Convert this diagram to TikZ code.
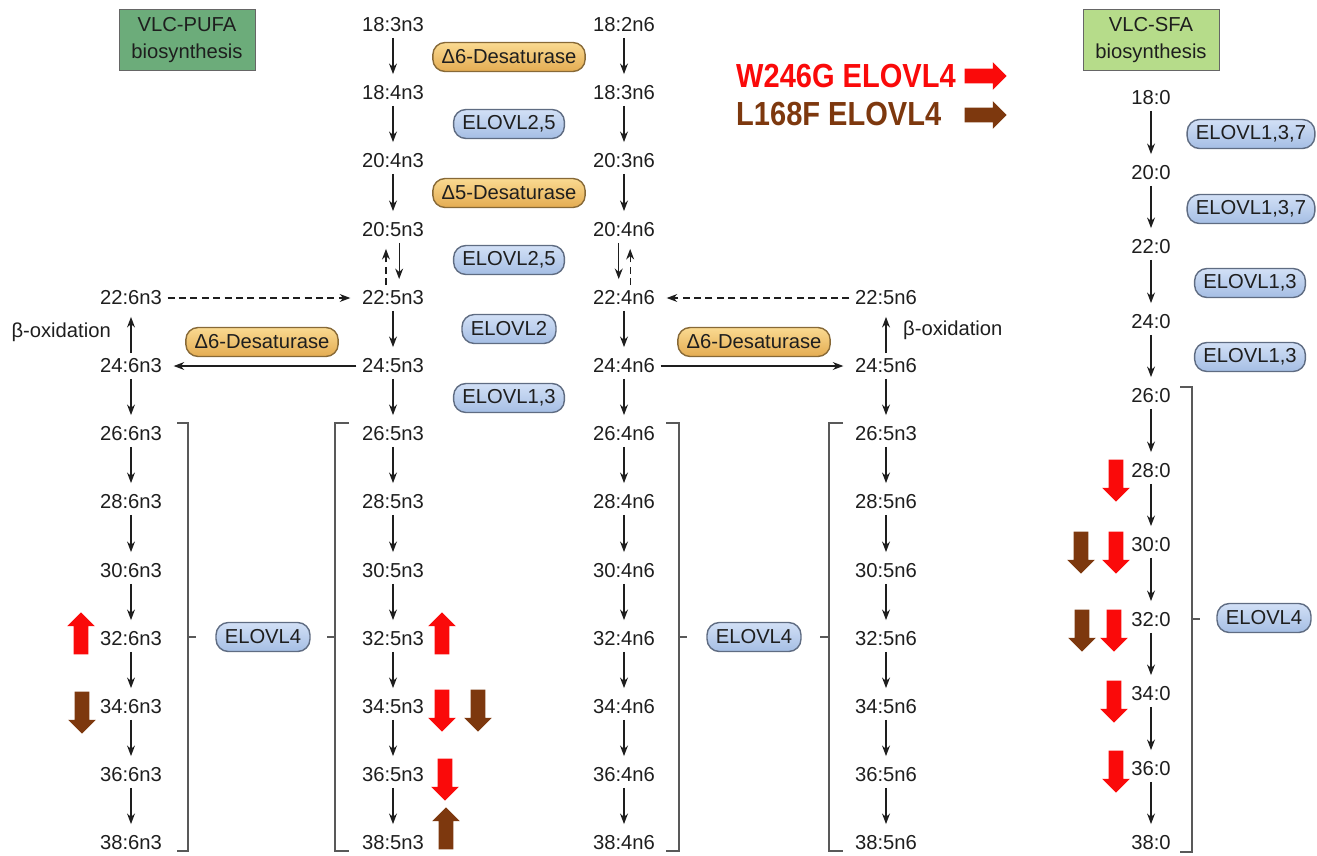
\documentclass[tikz,border=0pt]{standalone}
\usepackage{fontspec}
\setmainfont{Liberation Sans}
\newfontfamily\legfont{Liberation Sans}[FakeStretch=0.87]
\usetikzlibrary{arrows.meta, shapes.arrows}

\definecolor{ink}{RGB}{30,30,30}
\definecolor{mutred}{RGB}{250,10,10}
\definecolor{mutbrown}{RGB}{125,56,14}
\definecolor{elovltop}{RGB}{210,224,246}
\definecolor{elovlbot}{RGB}{165,190,228}
\definecolor{elovlline}{RGB}{95,108,130}
\definecolor{desattop}{RGB}{250,218,145}
\definecolor{desatbot}{RGB}{228,172,82}
\definecolor{desatline}{RGB}{135,105,55}
\definecolor{pufagreen}{RGB}{108,172,122}
\definecolor{sfagreen}{RGB}{182,220,138}

\begin{document}
\begin{tikzpicture}[
    x=0.02cm, y=-0.02cm,
    every node/.style={font=\fontsize{11.5}{13}\selectfont, text=ink},
    fa/.style={inner sep=1pt},
    enz/.style={rounded corners=7pt, minimum height=0.58cm, inner xsep=5pt, inner ysep=0pt, line width=0.8pt},
    elovl/.style={enz, draw=elovlline, top color=elovltop, bottom color=elovlbot},
    desat/.style={enz, draw=desatline, top color=desattop, bottom color=desatbot},
    header/.style={draw=black!60, minimum width=2.72cm, minimum height=1.22cm, inner sep=0pt, align=center, font=\fontsize{11.5}{15}\selectfont},
    arr/.style={-{Stealth[length=6pt, width=4.5pt]}, line width=0.7pt, ink, shorten <=2pt, shorten >=5.5pt},
    darr/.style={arr, dash pattern=on 4pt off 2.5pt},
    brk/.style={line width=0.8pt, black!65},
    mut/.style={single arrow, draw=none, inner sep=0.14cm, minimum height=0.84cm, single arrow head extend=0.13cm},
    mutup/.style={mut, rotate=90},
    mutdown/.style={mut, rotate=-90},
    legend/.style={anchor=west, font=\legfont\bfseries\fontsize{19}{21}\selectfont},
]
\useasboundingbox (0,0) rectangle (1317,855);

% headers
\node[header, fill=pufagreen] (hpufa) at (187,40) {VLC-PUFA\\biosynthesis};
\node[header, fill=sfagreen] (hsfa) at (1151,40) {VLC-SFA\\biosynthesis};

% legend
\node[legend, text=mutred] (lw) at (730,76) {W246G ELOVL4};
\node[legend, text=mutbrown] (ll) at (730,114) {L168F ELOVL4};
\node[mut, fill=mutred] (lwa) at (982,76) {};
\node[mut, fill=mutbrown] (lla) at (982,115) {};

% n3 side branch
\node[fa] (a4) at (131,298) {22:6n3};
\node[fa] (a5) at (131,366) {24:6n3};
\node[fa] (a6) at (131,434) {26:6n3};
\node[fa] (a7) at (131,502) {28:6n3};
\node[fa] (a8) at (131,571) {30:6n3};
\node[fa] (a9) at (131,639) {32:6n3};
\node[fa] (a10) at (131,707) {34:6n3};
\node[fa] (a11) at (131,775) {36:6n3};
\node[fa] (a12) at (131,843) {38:6n3};

% n3 main
\node[fa] (b0) at (393,25) {18:3n3};
\node[fa] (b1) at (393,93) {18:4n3};
\node[fa] (b2) at (393,161) {20:4n3};
\node[fa] (b3) at (393,230) {20:5n3};
\node[fa] (b4) at (393,298) {22:5n3};
\node[fa] (b5) at (393,366) {24:5n3};
\node[fa] (b6) at (393,434) {26:5n3};
\node[fa] (b7) at (393,502) {28:5n3};
\node[fa] (b8) at (393,571) {30:5n3};
\node[fa] (b9) at (393,639) {32:5n3};
\node[fa] (b10) at (393,707) {34:5n3};
\node[fa] (b11) at (393,775) {36:5n3};
\node[fa] (b12) at (393,843) {38:5n3};

% n6 main
\node[fa] (c0) at (624,25) {18:2n6};
\node[fa] (c1) at (624,93) {18:3n6};
\node[fa] (c2) at (624,161) {20:3n6};
\node[fa] (c3) at (624,230) {20:4n6};
\node[fa] (c4) at (624,298) {22:4n6};
\node[fa] (c5) at (624,366) {24:4n6};
\node[fa] (c6) at (624,434) {26:4n6};
\node[fa] (c7) at (624,502) {28:4n6};
\node[fa] (c8) at (624,571) {30:4n6};
\node[fa] (c9) at (624,639) {32:4n6};
\node[fa] (c10) at (624,707) {34:4n6};
\node[fa] (c11) at (624,775) {36:4n6};
\node[fa] (c12) at (624,843) {38:4n6};

% n6 side branch
\node[fa] (d4) at (886,298) {22:5n6};
\node[fa] (d5) at (886,366) {24:5n6};
\node[fa] (d6) at (886,434) {26:5n3};
\node[fa] (d7) at (886,502) {28:5n6};
\node[fa] (d8) at (886,571) {30:5n6};
\node[fa] (d9) at (886,639) {32:5n6};
\node[fa] (d10) at (886,707) {34:5n6};
\node[fa] (d11) at (886,775) {36:5n6};
\node[fa] (d12) at (886,843) {38:5n6};

% saturated
\node[fa] (e0) at (1151,98) {18:0};
\node[fa] (e1) at (1151,173) {20:0};
\node[fa] (e2) at (1151,247) {22:0};
\node[fa] (e3) at (1151,322) {24:0};
\node[fa] (e4) at (1151,396) {26:0};
\node[fa] (e5) at (1151,471) {28:0};
\node[fa] (e6) at (1151,545) {30:0};
\node[fa] (e7) at (1151,620) {32:0};
\node[fa] (e8) at (1151,694) {34:0};
\node[fa] (e9) at (1151,769) {36:0};
\node[fa] (e10) at (1151,843) {38:0};

% enzymes
\node[desat] (dz1) at (509,57) {Δ6-Desaturase};
\node[elovl] (el1) at (509,124) {ELOVL2,5};
\node[desat] (dz2) at (509,193) {Δ5-Desaturase};
\node[elovl] (el2) at (509,260) {ELOVL2,5};
\node[elovl] (el3) at (509,329) {ELOVL2};
\node[elovl] (el4) at (509,398) {ELOVL1,3};
\node[desat] (dzl) at (262,342) {Δ6-Desaturase};
\node[desat] (dzr) at (754,342) {Δ6-Desaturase};
\node[elovl] (el4l) at (263,637) {ELOVL4};
\node[elovl] (el4r) at (754,637) {ELOVL4};
\node[elovl] (el4s) at (1264,618) {ELOVL4};
\node[elovl] (es1) at (1251,134) {ELOVL1,3,7};
\node[elovl] (es2) at (1251,209) {ELOVL1,3,7};
\node[elovl] (es3) at (1250,283) {ELOVL1,3};
\node[elovl] (es4) at (1250,357) {ELOVL1,3};

% beta-oxidation labels
\node[anchor=east] (boxl) at (117,332) {β-oxidation};
\node[anchor=west] (boxr) at (897,330) {β-oxidation};

% brackets
\draw[brk] (177,423) -- (188,423) -- (188,851) -- (177,851);
\draw[brk] (188,637) -- (196,637);
\draw[brk] (349,423) -- (335,423) -- (335,851) -- (349,851);
\draw[brk] (327,637) -- (335,637);
\draw[brk] (666,423) -- (679,423) -- (679,851) -- (666,851);
\draw[brk] (679,637) -- (687,637);
\draw[brk] (843,423) -- (829,423) -- (829,851) -- (843,851);
\draw[brk] (820,637) -- (829,637);
\draw[brk] (1180,387) -- (1192,387) -- (1192,852) -- (1180,852);
\draw[brk] (1192,619) -- (1200,619);

% mutation effects
\node[mutup, fill=mutred] (m1) at (81,637) {};
\node[mutdown, fill=mutbrown] (m2) at (82,709) {};
\node[mutup, fill=mutred] (m3) at (442,637) {};
\node[mutdown, fill=mutred] (m4) at (442,707) {};
\node[mutdown, fill=mutbrown] (m5) at (478,707) {};
\node[mutdown, fill=mutred] (m6) at (445,776) {};
\node[mutup, fill=mutbrown] (m7) at (446,832) {};
\node[mutdown, fill=mutred] (m8) at (1116,477) {};
\node[mutdown, fill=mutbrown] (m9) at (1081,549) {};
\node[mutdown, fill=mutred] (m10) at (1116,549) {};
\node[mutdown, fill=mutbrown] (m11) at (1082,627) {};
\node[mutdown, fill=mutred] (m12) at (1114,627) {};
\node[mutdown, fill=mutred] (m13) at (1114,698) {};
\node[mutdown, fill=mutred] (m14) at (1116,768) {};

% n3 arrows
\draw[arr] (b0) -- (b1);
\draw[arr] (b1) -- (b2);
\draw[arr] (b2) -- (b3);
\draw[arr] ([xshift=3.5pt]b3.south) -- ([xshift=3.5pt]b4.north);
\draw[darr] ([xshift=-4pt]b4.north) -- ([xshift=-4pt]b3.south);
\draw[arr] (b4) -- (b5);
\draw[arr] (b5) -- (b6);
\draw[arr] (b6) -- (b7);
\draw[arr] (b7) -- (b8);
\draw[arr] (b8) -- (b9);
\draw[arr] (b9) -- (b10);
\draw[arr] (b10) -- (b11);
\draw[arr] (b11) -- (b12);
\draw[darr] (a4) -- (b4);
\draw[arr] (b5) -- (a5);
\draw[arr] (a5) -- (a4);
\draw[arr] (a5) -- (a6);
\draw[arr] (a6) -- (a7);
\draw[arr] (a7) -- (a8);
\draw[arr] (a8) -- (a9);
\draw[arr] (a9) -- (a10);
\draw[arr] (a10) -- (a11);
\draw[arr] (a11) -- (a12);

% n6 arrows
\draw[arr] (c0) -- (c1);
\draw[arr] (c1) -- (c2);
\draw[arr] (c2) -- (c3);
\draw[arr] ([xshift=-3pt]c3.south) -- ([xshift=-3pt]c4.north);
\draw[darr] ([xshift=3.5pt]c4.north) -- ([xshift=3.5pt]c3.south);
\draw[arr] (c4) -- (c5);
\draw[arr] (c5) -- (c6);
\draw[arr] (c6) -- (c7);
\draw[arr] (c7) -- (c8);
\draw[arr] (c8) -- (c9);
\draw[arr] (c9) -- (c10);
\draw[arr] (c10) -- (c11);
\draw[arr] (c11) -- (c12);
\draw[darr] (d4) -- (c4);
\draw[arr] (c5) -- (d5);
\draw[arr] (d5) -- (d4);
\draw[arr] (d5) -- (d6);
\draw[arr] (d6) -- (d7);
\draw[arr] (d7) -- (d8);
\draw[arr] (d8) -- (d9);
\draw[arr] (d9) -- (d10);
\draw[arr] (d10) -- (d11);
\draw[arr] (d11) -- (d12);

% SFA arrows
\draw[arr] (e0) -- (e1);
\draw[arr] (e1) -- (e2);
\draw[arr] (e2) -- (e3);
\draw[arr] (e3) -- (e4);
\draw[arr] (e4) -- (e5);
\draw[arr] (e5) -- (e6);
\draw[arr] (e6) -- (e7);
\draw[arr] (e7) -- (e8);
\draw[arr] (e8) -- (e9);
\draw[arr] (e9) -- (e10);

\end{tikzpicture}
\end{document}
